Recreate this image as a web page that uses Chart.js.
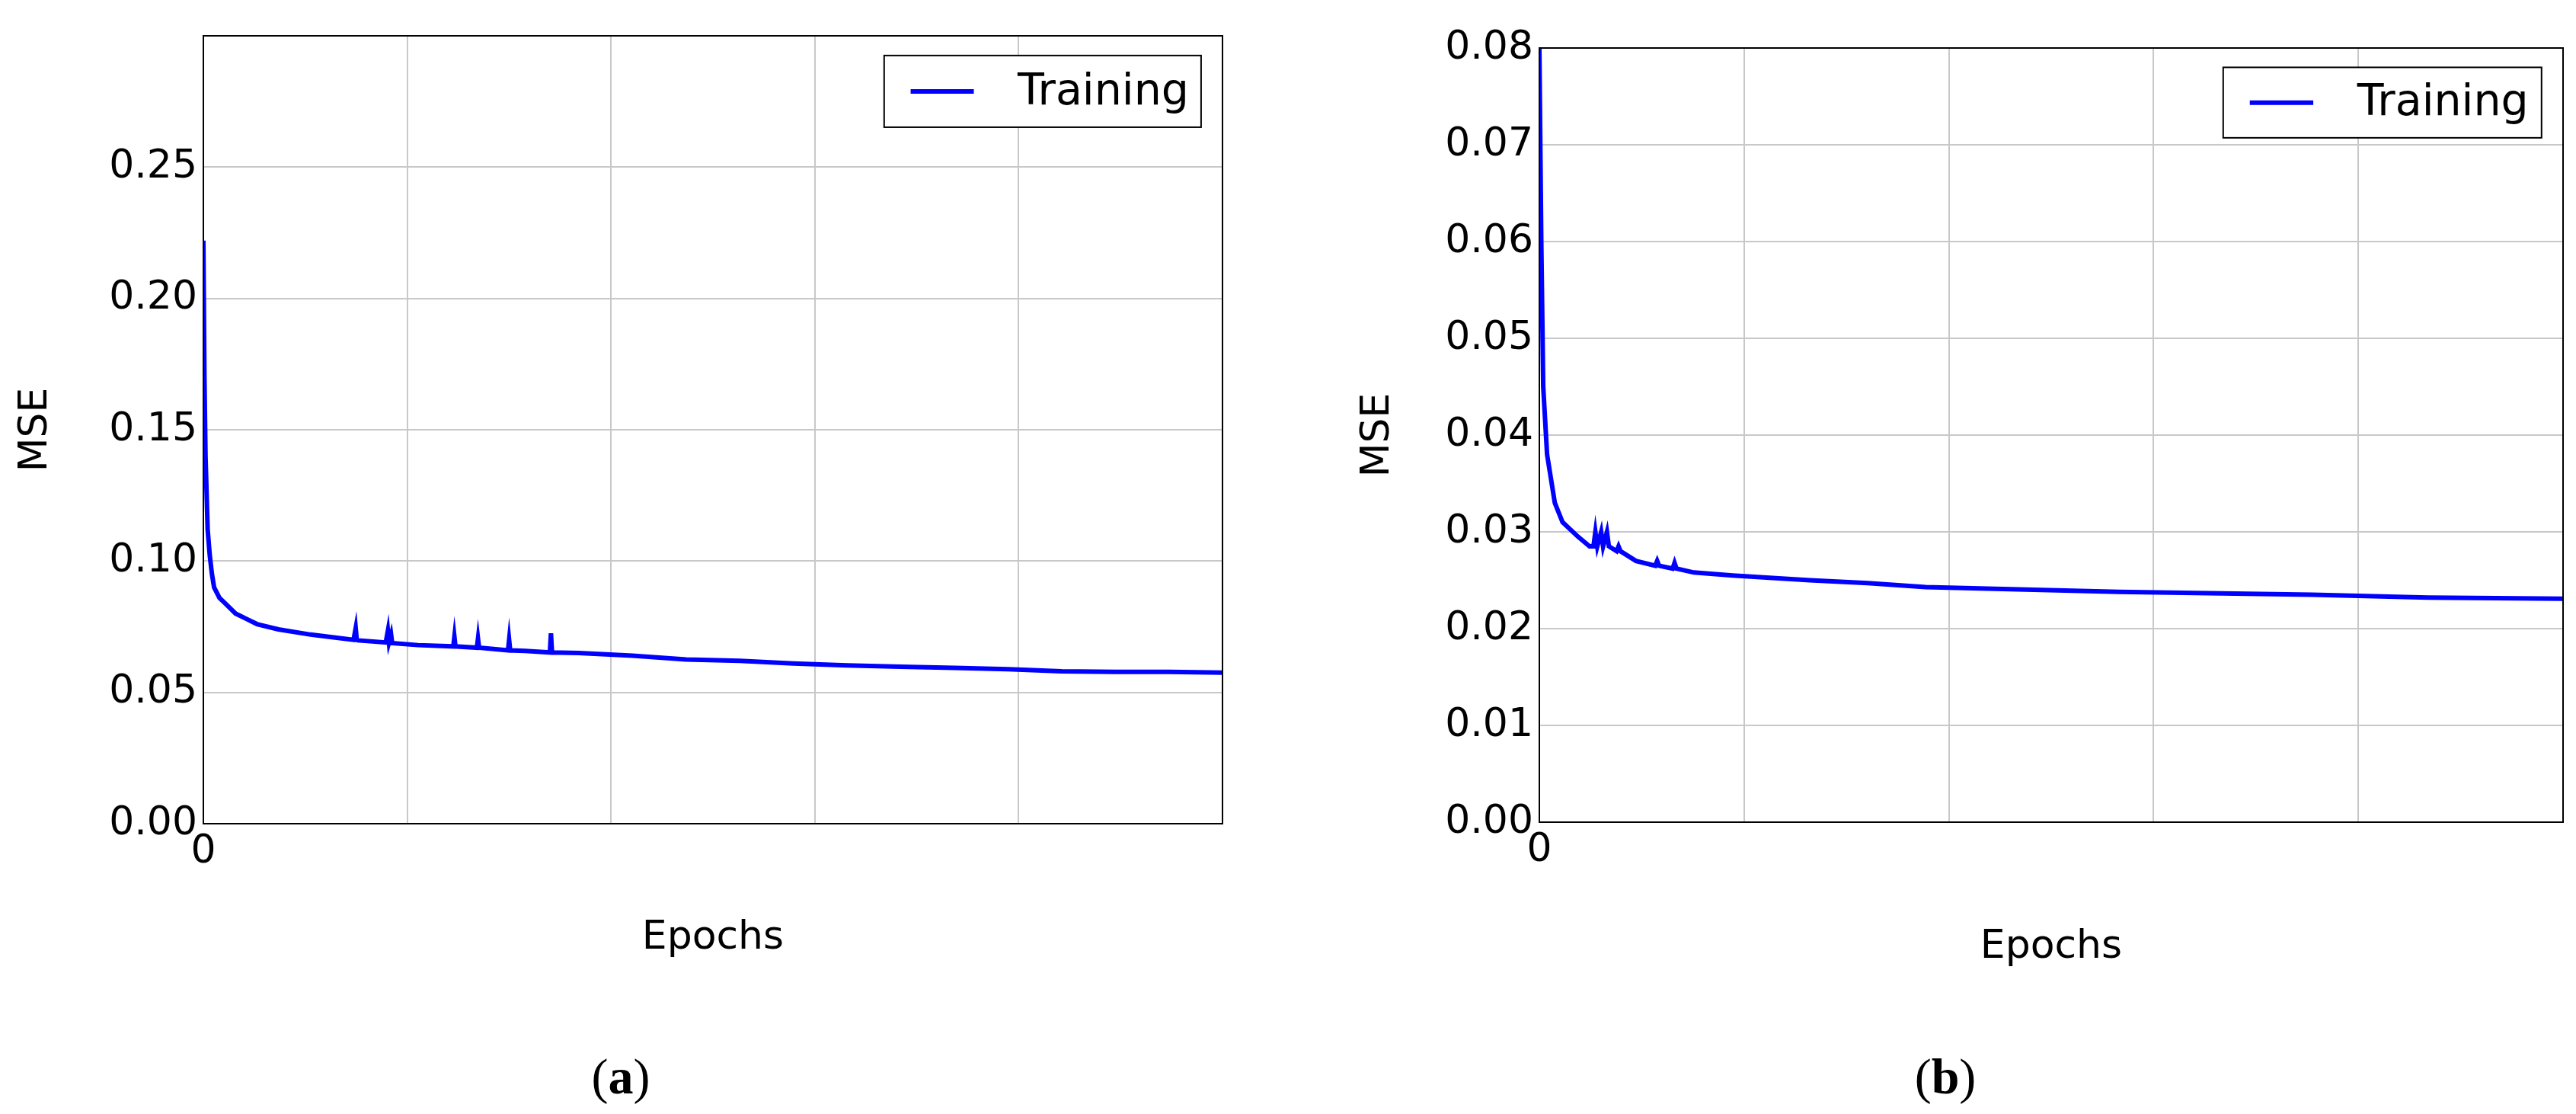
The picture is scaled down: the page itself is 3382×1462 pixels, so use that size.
<!DOCTYPE html>
<html><head><meta charset="utf-8">
<script src="https://cdn.jsdelivr.net/npm/chart.js@4.4.0/dist/chart.umd.min.js"></script>
<style>
body{margin:0;background:#fff;width:3382px;height:1462px;position:relative;overflow:hidden}
canvas{position:absolute}
.cap{position:absolute;font-family:"Liberation Serif",serif;font-size:66px;transform:translate(-50%,-50%)}
</style></head><body>
<div style="position:absolute;left:0;top:0;width:1700px;height:1281px"><canvas id="a"></canvas></div>
<div style="position:absolute;left:1700px;top:0;width:1682px;height:1279px"><canvas id="b"></canvas></div>
<div class="cap" style="left:815px;top:1413px">(<b>a</b>)</div>
<div class="cap" style="left:2554px;top:1413px">(<b>b</b>)</div>
<script>
const epochsA=[0,10,20,40,60,80,100,150,200,300,400,500,700,1000,1200,1400,1420,1430,1440,1700,1720,1730,1750,1760,2000,2330,2340,2350,2550,2560,2570,2840,2850,2860,3000,3230,3240,3250,3500,4000,4500,5000,5500,6000,6500,7000,7500,8000,8500,9000,9500];
const mseA=[0.222,0.17,0.14,0.112,0.102,0.095,0.09,0.086,0.084,0.08,0.078,0.076,0.074,0.072,0.071,0.070,0.0745,0.0700,0.0698,0.069,0.0735,0.0690,0.0720,0.0688,0.068,0.0675,0.0712,0.0675,0.0670,0.0705,0.0670,0.0660,0.0700,0.0660,0.0658,0.0652,0.0725,0.0652,0.065,0.064,0.0625,0.062,0.0610,0.0603,0.0598,0.0593,0.0588,0.0580,0.0578,0.0578,0.0575];
const epochsB=[0,5,10,20,40,60,100,130,140,145,150,160,165,175,180,200,205,210,250,300,305,310,345,350,355,400,500,700,850,1000,1500,2000,2300,2650];
const mseB=[0.08,0.06,0.045,0.038,0.033,0.031,0.0295,0.0285,0.0285,0.0300,0.0285,0.0300,0.0285,0.0300,0.0285,0.0280,0.0285,0.0280,0.0270,0.0265,0.0270,0.0265,0.0262,0.0268,0.0262,0.0258,0.0255,0.0250,0.0247,0.0243,0.0238,0.0235,0.0232,0.0231];
const tickFont={family:'"DejaVu Sans"',size:52};
function legendPlugin(){return{id:'lg',afterDraw(c){const a=c.chartArea,x=c.ctx,w=a.right-a.left,h=a.bottom-a.top;
x.save();x.strokeStyle='#000';x.lineWidth=2;x.fillStyle='#fff';
const l=a.left+0.668*w,r=a.left+0.979*w,t=a.top+0.025*h,b=a.top+0.116*h;
x.fillRect(l,t,r-l,b-t);x.strokeRect(l,t,r-l,b-t);
const cy=(t+b)/2;x.strokeStyle='#0000ff';x.lineWidth=6;x.beginPath();x.moveTo(a.left+0.694*w,cy);x.lineTo(a.left+0.756*w,cy);x.stroke();
x.fillStyle='#000';x.font='57px "DejaVu Sans"';x.textBaseline='middle';x.fillText('Training',a.left+0.799*w,cy+2);x.restore();}}}
function make(id,ex,ey,xmax,xstep,ymax,ystep,yw,titlePad,xpb,pad,ylimit){
 new Chart(document.getElementById(id),{type:'line',
 data:{datasets:[{label:'Training',data:ex.map((e,i)=>({x:e,y:ey[i]})),borderColor:'#0000ff',borderWidth:6,pointRadius:0,tension:0,fill:false}]},
 options:{responsive:true,maintainAspectRatio:false,animation:false,layout:{padding:pad},
 plugins:{legend:{display:false},tooltip:{enabled:false}},
 scales:{
  x:{type:'linear',min:0,max:xmax,afterFit(s){s.height=200},
   border:{color:'#000',width:2},grid:{color:'#c8c8c8',lineWidth:2,drawTicks:false},
   ticks:{stepSize:xstep,autoSkip:false,maxRotation:0,font:tickFont,color:'#000',padding:6,callback:v=>Math.abs(v%xstep)<1e-6?String(v):''},
   title:{display:true,text:'Epochs',font:{family:'"DejaVu Sans"',size:52},color:'#000',padding:{top:0,bottom:xpb}}},
  y:{min:0,max:ymax,afterFit(s){s.width=yw},
   border:{color:'#000',width:2},grid:{color:'#c8c8c8',lineWidth:2,drawTicks:false},
   ticks:{stepSize:ystep,autoSkip:false,font:tickFont,color:'#000',padding:8,callback:v=>v>ylimit?'':v.toFixed(2)},
   title:{display:true,text:'MSE',font:{family:'"DejaVu Sans"',size:52},color:'#000',padding:{top:titlePad,bottom:0}}}
 }},plugins:[legendPlugin(),{id:'frame',afterDraw(c){const a=c.chartArea,x=c.ctx;x.save();x.strokeStyle='#000';x.lineWidth=2;x.strokeRect(a.left,a.top,a.right-a.left,a.bottom-a.top);x.restore();}}]});
}
make('a',epochsA,mseA,9500,2000,0.30,0.05,267,16,18,{top:47,right:95,left:0,bottom:0},0.29);
make('b',epochsB,mseB,2650,500,0.08,0.01,321,78,4,{top:63,right:17,left:0,bottom:0},0.09);
</script></body></html>
